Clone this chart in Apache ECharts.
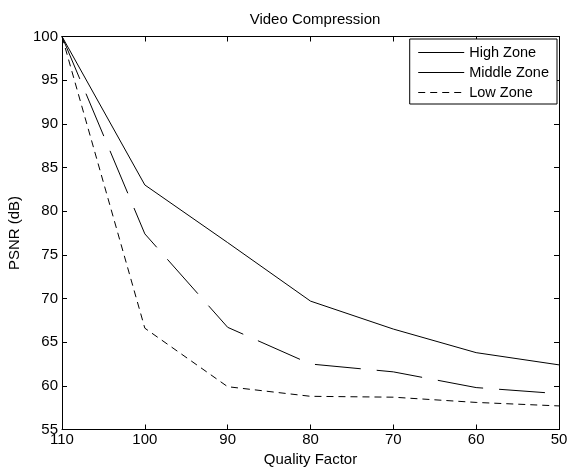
<!DOCTYPE html>
<html>
<head>
<meta charset="utf-8">
<script src="https://cdn.jsdelivr.net/npm/echarts@6/dist/echarts.min.js"></script>
<style>html,body{margin:0;padding:0;background:#fff}#c{width:567px;height:468px}</style>
</head>
<body>
<div id="c"></div>
<script>
var qualityFactor = [110, 100, 90, 80, 70, 60, 50];
var highZone   = [100, 83.0, 76.4, 69.7, 66.5, 63.8, 62.4];
var middleZone = [100, 77.4, 66.7, 62.5, 61.6, 59.8, 59.1];
var lowZone    = [100, 66.6, 59.9, 58.8, 58.7, 58.1, 57.7];
var seriesNames = ['High Zone', 'Middle Zone', 'Low Zone'];

function pairs(ys) { return qualityFactor.map(function (x, i) { return [x, ys[i]]; }); }

var FONT = 'Liberation Sans, Arial, sans-serif';
var FS = 15;
var chart = echarts.init(document.getElementById('c'), null, {renderer: 'canvas'});
var axisLine = {show: true, lineStyle: {color: '#000', width: 1}};
var axisTick = {show: true, inside: true, length: 5, lineStyle: {color: '#000', width: 1}};
chart.setOption({
  animation: false,
  backgroundColor: '#fff',
  title: {
    text: 'Video Compression', left: 310, top: 7, textAlign: 'center',
    textStyle: {fontFamily: FONT, fontSize: FS, fontWeight: 'normal', color: '#000'}
  },
  grid: {left: 62, right: 8, top: 36.5, bottom: 38.5, containLabel: false, outerBoundsMode: 'none'},
  legend: {
    orient: 'vertical', right: 10, top: 39,
    data: seriesNames,
    backgroundColor: '#fff', borderColor: '#000', borderWidth: 1,
    padding: [6, 8, 4, 8], itemGap: 5, itemWidth: 46, itemHeight: 14,
    itemStyle: {opacity: 0},
    lineStyle: {width: 1},
    textStyle: {fontFamily: FONT, fontSize: 14.5, color: '#000'}
  },
  xAxis: [{
    type: 'value', min: 50, max: 110, interval: 10, inverse: true, position: 'bottom',
    name: 'Quality Factor', nameLocation: 'middle', nameGap: 22,
    nameTextStyle: {fontFamily: FONT, fontSize: FS, color: '#000'},
    axisLine: axisLine, axisTick: axisTick, splitLine: {show: false},
    axisLabel: {fontFamily: FONT, fontSize: FS, color: '#000', margin: 3}
  }, {
    type: 'value', min: 50, max: 110, interval: 10, inverse: true, position: 'top',
    axisLine: axisLine, axisTick: axisTick, splitLine: {show: false},
    axisLabel: {show: false}
  }],
  yAxis: [{
    type: 'value', min: 55, max: 100, interval: 5, position: 'left',
    name: 'PSNR (dB)', nameLocation: 'middle', nameGap: 39, nameRotate: 90,
    nameTextStyle: {fontFamily: FONT, fontSize: FS, color: '#000'},
    axisLine: axisLine, axisTick: axisTick, splitLine: {show: false},
    axisLabel: {fontFamily: FONT, fontSize: FS, color: '#000', margin: 4}
  }, {
    type: 'value', min: 55, max: 100, interval: 5, position: 'right',
    axisLine: axisLine, axisTick: axisTick, splitLine: {show: false},
    axisLabel: {show: false}
  }],
  series: [{
    name: seriesNames[0], type: 'line', data: pairs(highZone), symbol: 'none',
    lineStyle: {color: '#000', width: 1, type: 'solid'}, itemStyle: {color: '#000'}
  }, {
    name: seriesNames[1], type: 'line', data: pairs(middleZone), symbol: 'none',
    lineStyle: {color: '#000', width: 1, type: [46, 16]}, itemStyle: {color: '#000'}
  }, {
    name: seriesNames[2], type: 'line', data: pairs(lowZone), symbol: 'none',
    lineStyle: {color: '#000', width: 1, type: [7, 5]}, itemStyle: {color: '#000'}
  }]
});
</script>
</body>
</html>
